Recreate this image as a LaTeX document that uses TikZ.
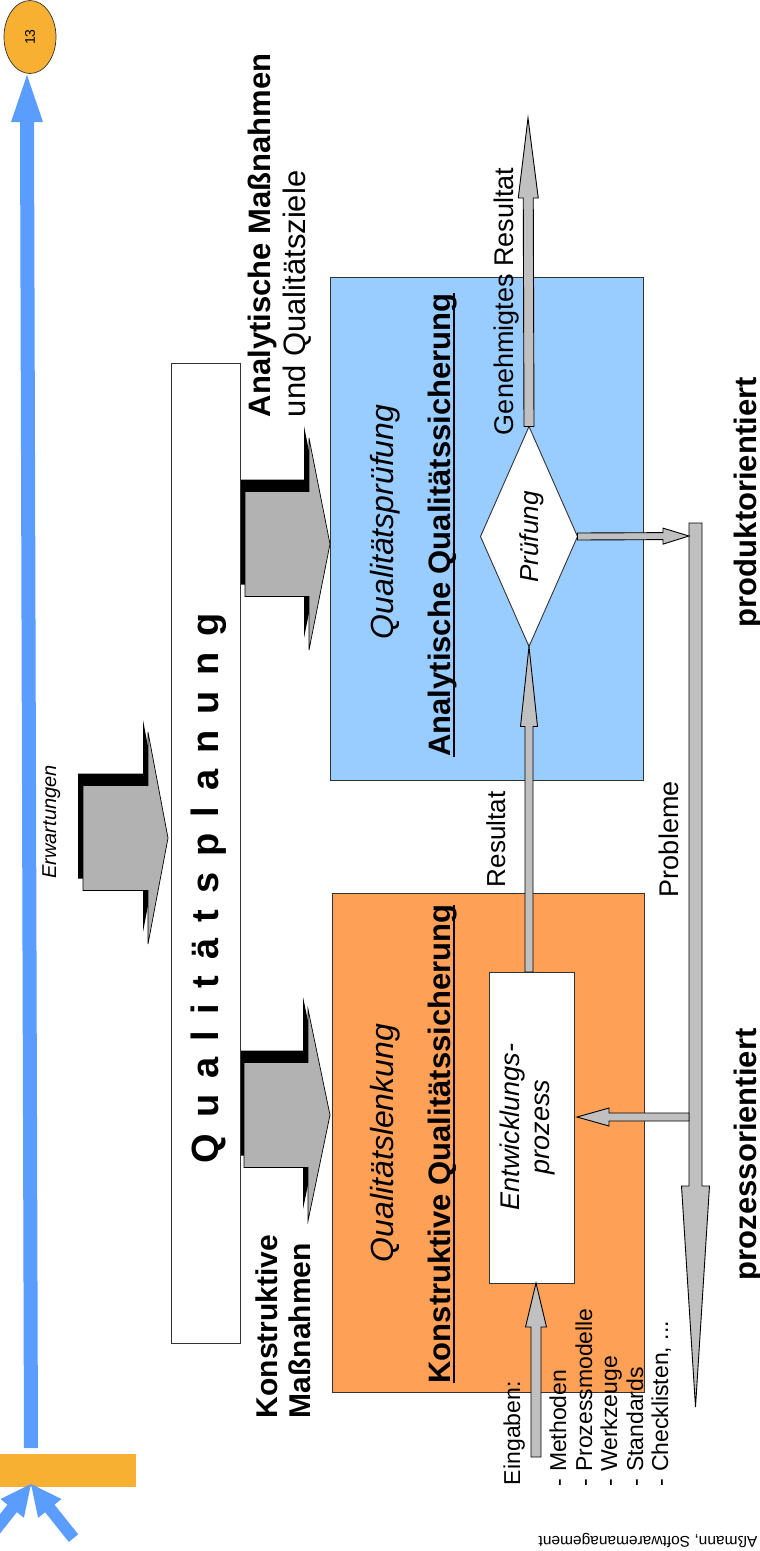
\documentclass[tikz,border=0pt]{standalone}
\usepackage{fontspec}
\setmainfont{Liberation Sans}
\usetikzlibrary{calc,shapes.geometric}
\definecolor{bluearr}{RGB}{91,156,255}
\definecolor{orng}{RGB}{247,176,50}
\definecolor{orbox}{RGB}{255,160,87}
\definecolor{blbox}{RGB}{153,204,255}
\definecolor{garrowc}{RGB}{192,192,192}
\definecolor{blockgray}{RGB}{178,178,178}
\newcommand\fs[1]{\fontsize{#1pt}{#1pt}\selectfont}
\newcommand\qsp{\hspace{16pt}}
\tikzset{
  garr/.style={draw=black, line width=0.9pt, fill=garrowc, line join=miter},
  txt/.style={inner sep=0pt, outer sep=0pt, rotate=90, anchor=base west},
  ctxt/.style={inner sep=0pt, outer sep=0pt, rotate=90, anchor=base},
  boxst/.style={draw=black!80, line width=0.9pt, inner sep=0pt, outer sep=0pt},
  blockarrow/.style={fill=blockgray, draw=black, line width=0.7pt},
  ulinest/.style={line width=2pt}
}
% gray block arrow between two points: from, to, shaft half width, head half width, head length
\newcommand\garrow[5]{%
  \coordinate (gA) at (#1); \coordinate (gB) at (#2);
  \coordinate (gH) at ($(gB)!#5!(gA)$);
  \draw[garr] ($(gA)!#3!90:(gB)$) -- ($(gH)!#3!90:(gB)$) -- ($(gH)!#4!90:(gB)$) -- (gB)
    -- ($(gH)!#4!-90:(gB)$) -- ($(gH)!#3!-90:(gB)$) -- ($(gA)!#3!-90:(gB)$) -- cycle;}
% 3D block arrow: shaft start x, head base x, tip x, centre y
\newcommand\blockpath[4]{({#1},{#4-52.5}) -- ({#2},{#4-52.5}) -- ({#2},{#4-106}) -- ({#3},{#4}) -- ({#2},{#4+106}) -- ({#2},{#4+52.5}) -- ({#1},{#4+52.5}) -- cycle}
\newcommand\blockarr[4]{%
  \begin{scope}[shift={(-5,-12)}]\fill[black] \blockpath{#1}{#2}{#3}{#4};\end{scope}
  \draw[blockarrow] \blockpath{#1}{#2}{#3}{#4};}
\begin{document}
\begin{tikzpicture}[x=1pt,y=-1pt]
\useasboundingbox (0,0) rectangle (760,1551);
\clip (0,0) rectangle (760,1551);

% left blue timeline arrow and page marker
\fill[bluearr] (24,1448) -- (38,1448) -- (34,122) -- (43,122) -- (27,75) -- (11,122) -- (20,122) -- cycle;
\node[ellipse, draw=black!80, line width=0.7pt, fill=orng, minimum width=52pt, minimum height=73pt, inner sep=0pt] (page) at (30,37) {\rotatebox{90}{\fs{14}13}};
\node[fill=orng, inner sep=0pt, minimum width=136pt, minimum height=33pt] (obar) at (68,1470.5) {};
\fill[bluearr] (31,1484) -- (61.5,1499) -- (54.5,1504.7) -- (78.2,1534.3) -- (68.8,1541.9) -- (45.1,1512.2) -- (38.1,1517.8) -- cycle;
\fill[bluearr] (31,1484) -- (0.5,1499) -- (7.5,1504.7) -- (-16.2,1534.3) -- (-6.8,1541.9) -- (16.9,1512.2) -- (23.9,1517.8) -- cycle;

% 3D arrows
\blockarr{83}{148}{168}{838}
\blockarr{245}{309}{330}{544}
\blockarr{244}{308}{330}{1115}

% Qualitaetsplanung
\node[boxst, fill=white, minimum width=69pt, minimum height=980pt] (qp) at (205.5,853) {};
\node[ctxt] (qpt) at (218,888) {\fs{38}\bfseries Q\qsp u\qsp a\qsp l\qsp i\qsp t\qsp ä\qsp t\qsp s\qsp p\qsp l\qsp a\qsp n\qsp u\qsp n\qsp g};

% boxes
\node[boxst, fill=blbox, minimum width=313pt, minimum height=503pt] (bbox) at (486.5,528.5) {};
\node[boxst, fill=orbox, minimum width=312pt, minimum height=499pt] (obox) at (488,1142.5) {};
\node[boxst, fill=white, minimum width=85pt, minimum height=311pt] (ent) at (531.5,1127.5) {};
\node[diamond, boxst, fill=white, aspect=0.44, minimum width=97pt, minimum height=220pt] (pr) at (529,536.5) {};

% texts in boxes
\node[ctxt] at (535,1127) {\fontsize{27pt}{30pt}\selectfont\itshape\begin{tabular}{@{}c@{}}Entwicklungs-\\prozess\end{tabular}};
\node[ctxt] at (538,537) {\fs{26}\itshape Prüfung};
\node[ctxt] at (393,1143) {\fs{32}\itshape Qualitätslenkung};
\node[ctxt] (kq) at (450,1144) {\fs{31}\bfseries Konstruktive Qualitätssicherung};
\draw[ulinest] ($(kq.base west)+(4,0)$) -- ($(kq.base east)+(4,0)$);
\node[ctxt] at (393,522) {\fs{32}\itshape Qualitätsprüfung};
\node[ctxt] (aq) at (450,525) {\fs{31}\bfseries Analytische Qualitätssicherung};
\draw[ulinest] ($(aq.base west)+(4,0)$) -- ($(aq.base east)+(4,0)$);

% gray arrows
\coordinate (gtop) at (528,118);
\coordinate (bartop) at (695.5,523);
\coordinate (bartip) at (695.5,1407);
\coordinate (barin) at (689,536);
\coordinate (barout) at (689,1117);
\coordinate (ein) at (536,1457);
\garrow{ent.north -| pr.south}{pr.south}{4pt}{8.5pt}{80pt}
\garrow{pr.north}{gtop}{5pt}{10pt}{80pt}
\garrow{bartop}{bartip}{6.5pt}{14pt}{221pt}
\garrow{pr.east}{barin}{3.5pt}{8pt}{26pt}
\garrow{barout}{$(ent.east |- barout)+(3,0)$}{4pt}{9pt}{32pt}
\garrow{ein}{ein |- ent.south}{5pt}{10.5pt}{44pt}

% free texts
\node[txt] at (270,417) {\fs{31}\bfseries Analytische Maßnahmen};
\node[txt] at (305,417) {\fs{31}und Qualitätsziele};
\node[txt] at (277,1418) {\fs{30}\bfseries Konstruktive};
\node[txt] at (310,1418) {\fs{30}\bfseries Maßnahmen};
\node[ctxt] at (56,822) {\fs{20}\itshape Erwartungen};
\node[txt] at (505,887) {\fs{26}Resultat};
\node[txt] at (513,435) {\fs{27}Genehmigtes Resultat};
\node[txt] at (678,897) {\fs{27}Probleme};
\node[txt] at (756,627) {\fs{31}\bfseries produktorientiert};
\node[txt] at (756,1280) {\fs{31}\bfseries prozessorientiert};
\node[txt] at (520,1485) {\fs{23}Eingaben:};
\node[txt] at (566,1486) {\fs{23}- Methoden};
\node[txt] at (592,1486) {\fs{23}- Prozessmodelle};
\node[txt] at (617,1486) {\fs{23}- Werkzeuge};
\node[txt] at (643,1486) {\fs{23}- Standards};
\node[txt] at (668,1486) {\fs{23}- Checklisten, ...};
\node[rotate=180, inner sep=0pt] at (648,1540) {\fs{15.5}Aßmann, Softwaremanagement};
\end{tikzpicture}
\end{document}
